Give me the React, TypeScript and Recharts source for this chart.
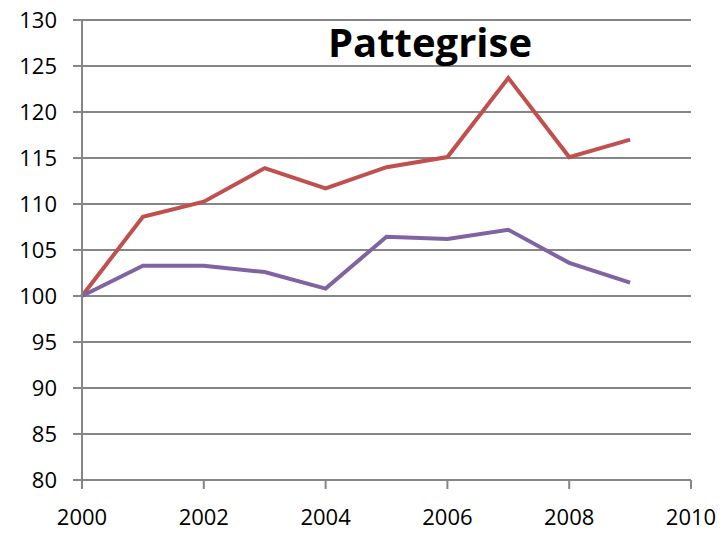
import { LineChart, Line, XAxis, YAxis, CartesianGrid } from 'recharts';

const years = [2000, 2001, 2002, 2003, 2004, 2005, 2006, 2007, 2008, 2009];
const redSeries = [100, 108.6, 110.25, 113.9, 111.7, 114, 115.1, 123.7, 115.1, 117.0];
const purpleSeries = [100, 103.3, 103.3, 102.6, 100.8, 106.45, 106.2, 107.2, 103.6, 101.45];
const xTicks = [2000, 2002, 2004, 2006, 2008, 2010];
const yTicks = [80, 85, 90, 95, 100, 105, 110, 115, 120, 125, 130];
const title = 'Pattegrise';

const data = years.map((year, i) => ({
  year,
  red: redSeries[i],
  purple: purpleSeries[i],
}));

const tickStyle = { fill: '#000', fontSize: 22, fontFamily: '"Open Sans", sans-serif' };

export default function App() {
  return (
    <div style={{ position: 'absolute', left: 0, top: 0, width: 720, height: 536, background: '#fff' }}>
      <LineChart width={720} height={536} data={data} margin={{ top: 20, right: 29, left: 0, bottom: 0 }}>
        <CartesianGrid vertical={false} stroke="#868686" strokeWidth={2} />
        <XAxis
          dataKey="year"
          type="number"
          domain={[2000, 2010]}
          ticks={xTicks}
          interval={0}
          tick={tickStyle}
          tickSize={9}
          tickMargin={20}
          stroke="#868686"
          strokeWidth={2}
          height={56}
        />
        <YAxis
          type="number"
          domain={[80, 130]}
          ticks={yTicks}
          interval={0}
          tick={tickStyle}
          tickSize={9}
          tickMargin={16}
          stroke="#868686"
          strokeWidth={2}
          width={82}
        />
        <Line
          dataKey="red"
          stroke="#C0504D"
          strokeWidth={4}
          dot={false}
          isAnimationActive={false}
        />
        <Line
          dataKey="purple"
          stroke="#8064A2"
          strokeWidth={4}
          dot={false}
          isAnimationActive={false}
        />
      </LineChart>
      <svg width={720} height={536} style={{ position: 'absolute', left: 0, top: 0, pointerEvents: 'none' }}>
        <text
          x={430}
          y={57}
          textAnchor="middle"
          fontFamily='"Open Sans", sans-serif'
          fontWeight="bold"
          fontSize={40}
          fill="#000"
        >
          {title}
        </text>
      </svg>
    </div>
  );
}
